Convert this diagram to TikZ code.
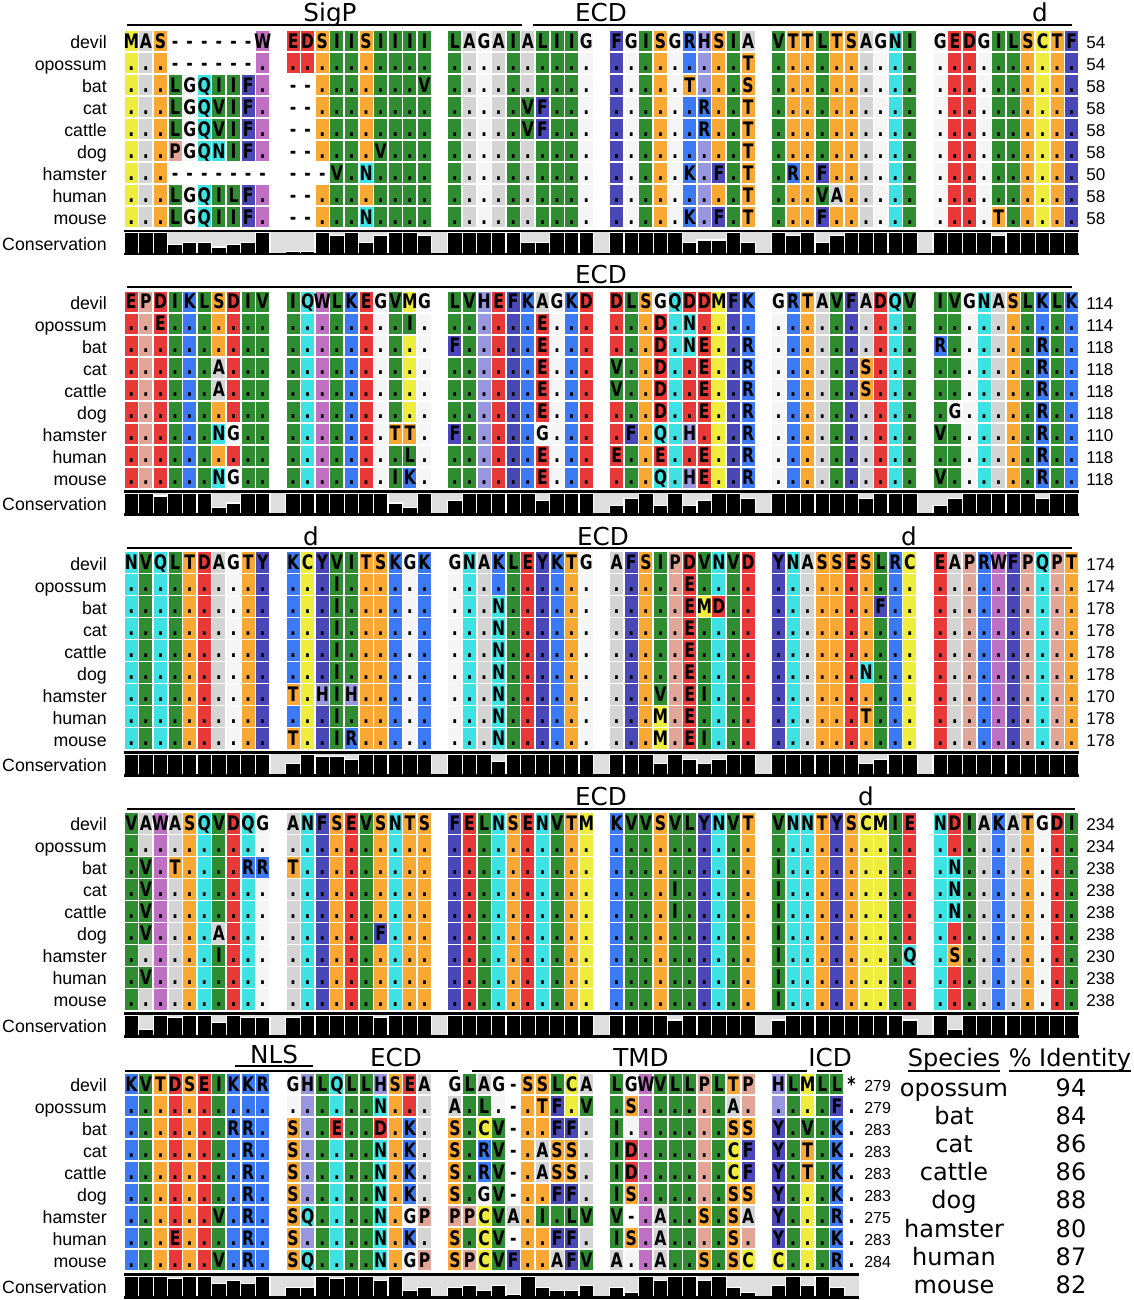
\documentclass[tikz,border=0pt]{standalone}
\usepackage{fontspec}
\usepackage{xstring}
\setmainfont{Liberation Sans}
\newfontfamily\dejavu{DejaVu Sans}
\newfontfamily\resfam{DejaVu Sans}[FakeStretch=0.78]

\newcommand\resfont{\resfam\bfseries\fontsize{15}{15}\selectfont}
\newcommand\lblfont{\fontsize{13.3}{13.3}\selectfont}
\newcommand\numfont{\fontsize{12.8}{12.8}\selectfont}
\newcommand\hdrfont{\dejavu\fontsize{18.5}{18.5}\selectfont}
\newcommand\tblfont{\dejavu\fontsize{18}{18}\selectfont}
\newcommand\smallnumfont{\fontsize{12}{12}\selectfont}

% residue colours
\definecolor{resred}{RGB}{232,56,56}
\definecolor{resorange}{RGB}{250,168,52}
\definecolor{resgreen}{RGB}{48,140,48}
\definecolor{rescyan}{RGB}{62,226,226}
\definecolor{resblue}{RGB}{60,122,245}
\definecolor{resindigo}{RGB}{74,72,182}
\definecolor{respurple}{RGB}{192,112,194}
\definecolor{ressalmon}{RGB}{226,166,152}
\definecolor{resyellow}{RGB}{238,236,60}
\definecolor{resgray}{RGB}{212,212,212}
\definecolor{reslight}{RGB}{245,245,245}
\definecolor{reslav}{RGB}{152,150,222}
\definecolor{consgray}{RGB}{222,222,222}
\colorlet{aaA}{resgray}\colorlet{aaG}{reslight}
\colorlet{aaM}{resyellow}\colorlet{aaC}{resyellow}
\colorlet{aaS}{resorange}\colorlet{aaT}{resorange}
\colorlet{aaW}{respurple}
\colorlet{aaE}{resred}\colorlet{aaD}{resred}
\colorlet{aaI}{resgreen}\colorlet{aaL}{resgreen}\colorlet{aaV}{resgreen}
\colorlet{aaF}{resindigo}\colorlet{aaY}{resindigo}
\colorlet{aaR}{resblue}\colorlet{aaK}{resblue}
\colorlet{aaH}{reslav}
\colorlet{aaN}{rescyan}\colorlet{aaQ}{rescyan}
\colorlet{aaP}{ressalmon}

\newcommand\blk{}
\newcommand\blky{}
\newcommand\numx{}
\newcommand\refseq{}

% one alignment row: row, species, residues (groups split by |), length
\newcommand\seqrow[4]{%
  \pgfmathsetmacro\rowy{\blky+22*#1}%
  \node[spname] (s\blk-#1) at (107,\rowy+7.5) {#2};%
  \StrDel{#3}{|}[\rowseq]%
  \StrLen{\rowseq}[\ncols]%
  \foreach \i in {1,...,\ncols}{%
    \StrChar{\rowseq}{\i}[\shown]%
    \StrChar{\refseq}{\i}[\refres]%
    \IfStrEq{\shown}{.}{\let\res\refres}{\let\res\shown}%
    \IfStrEqCase{\res}{{-}{\def\rescol{white}}{*}{\def\rescol{white}}{}{\def\rescol{white}}}[\edef\rescol{aa\res}]%
    \pgfmathtruncatemacro\grp{(\i-1)/10}%
    \pgfmathsetmacro\cx{131.3+161.8*\grp+14.6*(\i-1-10*\grp)}%
    \node[rescell,fill=\rescol] (c\blk-#1-\i) at (\cx,\rowy) {\makebox[0pt]{\shown}};%
  }%
  \node[rescount] (n\blk-#1) at (\numx,\rowy+7.5) {#4};%
}
\newcommand\devilrow[2]{\StrDel{#1}{|}[\refseq]\seqrow{0}{devil}{#1}{#2}}

% conservation track under a block
\newcommand\consrow[1]{%
  \StrDel{#1}{|}[\conseq]%
  \StrLen{\conseq}[\ncols]%
  \pgfmathtruncatemacro\grp{(\ncols-1)/10}%
  \pgfmathsetmacro\xend{124+161.8*\grp+14.6*(\ncols-10*\grp)}%
  \node[spname] (cons\blk) at (107,\blky+209) {Conservation};%
  \fill[consbg] (124,\blky+190) rectangle (\xend,\blky+213);%
  \foreach \i in {1,...,\ncols}{%
    \StrChar{\conseq}{\i}[\lev]%
    \pgfmathtruncatemacro\grp{(\i-1)/10}%
    \pgfmathsetmacro\lx{124+161.8*\grp+14.6*(\i-1-10*\grp)}%
    \ifnum\lev>0 \filldraw[consbar] (\lx,\blky+213) rectangle ++(14.6,-2.35*\lev);\fi
  }%
  \draw[consedge] (124,\blky+190) -- (\xend,\blky+190);%
  \draw[consedge] (124,\blky+213) -- (\xend,\blky+213);%
}

\begin{document}
\begin{tikzpicture}[
    x=0.75pt, y=-0.75pt,
    rescell/.style={inner sep=0pt, minimum width=9.75pt, text height=12.94pt, text depth=2.44pt, font=\resfont},
    spname/.style={anchor=base east, inner sep=0pt, font=\lblfont},
    rescount/.style={anchor=base west, inner sep=0pt, font=\numfont},
    hdr/.style={anchor=base, inner sep=0pt, font=\hdrfont},
    tbl/.style={anchor=base, inner sep=0pt, font=\tblfont},
    track/.style={line width=1.5pt},
    consbg/.style={fill=consgray},
    consbar/.style={fill=black, draw=white, line width=0.9pt},
    consedge/.style={line width=2pt}
  ]
  \useasboundingbox (0,0) rectangle (1133,1300);

  % Block 1
  \def\blk{1}\def\blky{41}\def\numx{1086}
  \node[hdr] (sigp1) at (330,21) {SigP};
  \node[hdr] (ecd1) at (601,21) {ECD};
  \node[hdr] (dom1) at (1040,21) {d};
  \draw[track] (127,24.5) -- (522,24.5);
  \draw[track] (533,24.5) -- (1072,24.5);
  \devilrow{MAS------W|EDSIISIIII|LAGAIALIIG|FGISGRHSIA|VTTLTSAGNI|GEDGILSCTF}{54}
  \seqrow{1}{opossum}{...------.|..........|..........|.........T|..........|..........}{54}
  \seqrow{2}{bat}{...LGQIIF.|--.......V|..........|.....T...S|..........|..........}{58}
  \seqrow{3}{cat}{...LGQVIF.|--........|.....VF...|......R..T|..........|..........}{58}
  \seqrow{4}{cattle}{...LGQVIF.|--........|.....VF...|......R..T|..........|..........}{58}
  \seqrow{5}{dog}{...PGQNIF.|--....V...|..........|.........T|..........|..........}{58}
  \seqrow{6}{hamster}{...-------|---V.N....|..........|.....K.F.T|.R.F......|..........}{50}
  \seqrow{7}{human}{...LGQILF.|--........|..........|.........T|...VA.....|..........}{58}
  \seqrow{8}{mouse}{...LGQIIF.|--...N....|..........|.....K.F.T|...F......|....T.....}{58}
  \consrow{9994553459|1198958998|9999955999|9999956695|9895899999|9999899999}

  % Block 2
  \def\blk{2}\def\blky{301.8}
  \node[hdr] (ecd2) at (601,283) {ECD};
  \draw[track] (127,287) -- (1072,287);
  \devilrow{EPDIKLSDIV|IQWLKEGVMG|LVHEFKAGKD|DLSGQDDMFK|GRTAVFADQV|IVGNASLKLK}{114}
  \seqrow{1}{opossum}{..E.......|........I.|......E...|...D.N....|..........|..........}{114}
  \seqrow{2}{bat}{..........|..........|F.....E...|...D.NE..R|..........|R......R..}{118}
  \seqrow{3}{cat}{......A...|..........|......E...|V..D..E..R|......S...|.......R..}{118}
  \seqrow{4}{cattle}{......A...|..........|......E...|V..D..E..R|......S...|.......R..}{118}
  \seqrow{5}{dog}{..........|..........|......E...|...D..E..R|..........|.G.....R..}{118}
  \seqrow{6}{hamster}{......NG..|.......TT.|F.....G...|.F.Q.H...R|..........|V......R..}{110}
  \seqrow{7}{human}{..........|........L.|......E...|E..E..E..R|..........|.......R..}{118}
  \seqrow{8}{mouse}{......NG..|.......IK.|......E...|...Q.HE..R|..........|V......R..}{118}
  \consrow{9989993599|9999999539|6999996999|4794946997|9999997999|4799999799}

  % Block 3
  \def\blk{3}\def\blky{562.6}
  \node[hdr] (dom3a) at (311,545) {d};
  \node[hdr] (ecd3) at (603,545) {ECD};
  \node[hdr] (dom3b) at (909,545) {d};
  \draw[track] (127,548) -- (1072,548);
  \devilrow{NVQLTDAGTY|KCYVITSKGK|GNAKLEYKTG|AFSIPDVNVD|YNASSESLRC|EAPRWFPQPT}{174}
  \seqrow{1}{opossum}{..........|...I......|..........|.....E....|..........|..........}{174}
  \seqrow{2}{bat}{..........|...I......|...N......|.....EMD..|.......F..|..........}{178}
  \seqrow{3}{cat}{..........|...I......|...N......|.....E....|..........|..........}{178}
  \seqrow{4}{cattle}{..........|...I......|...N......|.....E....|..........|..........}{178}
  \seqrow{5}{dog}{..........|...I......|...N......|.....E....|......N...|..........}{178}
  \seqrow{6}{hamster}{..........|T.HIH.....|...N......|...V.EI...|..........|..........}{170}
  \seqrow{7}{human}{..........|...I......|...N......|...M.E....|......T...|..........}{178}
  \seqrow{8}{mouse}{..........|T..IR.....|...N......|...M.EI...|..........|..........}{178}
  \consrow{9999999999|5988799999|9996999999|9995975799|9999995799|9999999999}

  % Block 4
  \def\blk{4}\def\blky{823.4}
  \node[hdr] (ecd4) at (601,805) {ECD};
  \node[hdr] (dom4) at (866,805) {d};
  \draw[track] (127,808.5) -- (1075,808.5);
  \devilrow{VAWASQVDQG|ANFSEVSNTS|FELNSENVTM|KVVSVLYNVT|VNNTYSCMIE|NDIAKATGDI}{234}
  \seqrow{1}{opossum}{..........|..........|..........|..........|..........|..........}{234}
  \seqrow{2}{bat}{.V.T....RR|T.........|..........|..........|I.........|.N........}{238}
  \seqrow{3}{cat}{.V........|..........|..........|....I.....|I.........|.N........}{238}
  \seqrow{4}{cattle}{.V........|..........|..........|....I.....|I.........|.N........}{238}
  \seqrow{5}{dog}{.V....A...|......F...|..........|..........|I.........|..........}{238}
  \seqrow{6}{hamster}{......I...|..........|..........|..........|I........Q|.S........}{230}
  \seqrow{7}{human}{.V........|..........|..........|..........|I.........|..........}{238}
  \seqrow{8}{mouse}{..........|..........|..........|..........|I.........|..........}{238}
  \consrow{9398996988|8999998999|9999999999|9999799999|7999999997|9399999999}

  % Block 5
  \def\blk{5}\def\blky{1084.2}\def\numx{864}
  \tikzset{rescount/.style={anchor=base west, inner sep=0pt, font=\smallnumfont}}
  \node[hdr] (nls5) at (274,1063) {NLS};
  \node[hdr] (ecd5) at (396,1066) {ECD};
  \node[hdr] (tmd5) at (641,1066) {TMD};
  \node[hdr] (icd5) at (830,1066) {ICD};
  \draw[track] (235,1065.5) -- (313,1065.5);
  \draw[track] (125,1070.5) -- (458,1070.5);
  \draw[track] (472,1070.5) -- (807,1070.5);
  \draw[track] (817,1070.5) -- (842,1070.5);
  \devilrow{KVTDSEIKKR|GHLQLLHSEA|GLAG-SSLCA|LGWVLLPLTP|HLMLL*}{279}
  \seqrow{1}{opossum}{..........|......N...|A.L.-.TF.V|.S......A.|....F.}{279}
  \seqrow{2}{bat}{.......RR.|S..E..D.K.|S.CV-..FF.|I.......SS|Y.V.K.}{283}
  \seqrow{3}{cat}{........R.|S.....N.K.|S.RV-.ASS.|ID......CF|Y.T.K.}{283}
  \seqrow{4}{cattle}{........R.|S.....N.K.|S.RV-.ASS.|ID......CF|Y.T.K.}{283}
  \seqrow{5}{dog}{........R.|S.....N.K.|S.GV-..FF.|IS......SS|Y...K.}{283}
  \seqrow{6}{hamster}{......V.R.|SQ....N.GP|PPCVA.I.LV|V-.A..S.SA|Y...R.}{275}
  \seqrow{7}{human}{...E....R.|S.....N.K.|S.CV-..FF.|IS.A....S.|Y...K.}{283}
  \seqrow{8}{mouse}{......V.R.|SQ....N.GP|SPCVF..AFV|A..A..S.SC|C...R.}{284}
  \consrow{9998996769|4498997934|4535194335|4297997942|595940}

  % identity table
  \node[tbl] (sphdr) at (954,1066) {Species};
  \node[tbl] (idhdr) at (1070,1066) {\% Identity};
  \draw[track] (sphdr.south west) -- (sphdr.south east);
  \draw[track] (idhdr.south west) -- (idhdr.south east);
  \foreach \sp/\pid [count=\k from 0] in {opossum/94, bat/84, cat/86, cattle/86, dog/88, hamster/80, human/87, mouse/82}{
    \node[tbl] (tsp-\sp) at (954,1096+28.2*\k) {\sp};
    \node[tbl] (tid-\sp) at (1071,1096+28.2*\k) {\pid};
  }
\end{tikzpicture}
\end{document}
